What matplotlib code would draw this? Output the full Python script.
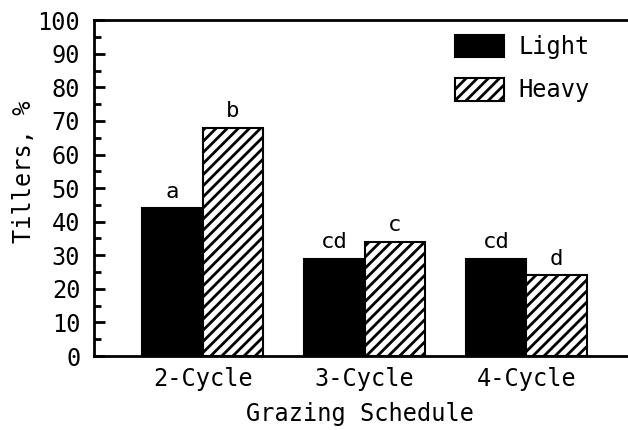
import matplotlib
matplotlib.use('Agg')
import matplotlib.pyplot as plt
import numpy as np

plt.rcParams['font.family'] = ['DejaVu Sans Mono']
plt.rcParams['hatch.linewidth'] = 2.0

# Data
schedules = ['2-Cycle', '3-Cycle', '4-Cycle']
light = [44, 29, 29]
heavy = [68, 34, 24]
light_letters = ['a', 'cd', 'cd']
heavy_letters = ['b', 'c', 'd']

fig = plt.figure(figsize=(6.28, 4.30), dpi=100)
ax = fig.add_axes([0.150, 0.172, 0.848, 0.781])

x = np.arange(len(schedules))
w = 0.375
b1 = ax.bar(x - w / 2, light, w, color='black', edgecolor='black', linewidth=1.5, label='Light')
b2 = ax.bar(x + w / 2, heavy, w, color='white', edgecolor='black', hatch='///', linewidth=1.5, label='Heavy')

for rect, t in zip(b1, light_letters):
    ax.text(rect.get_x() + rect.get_width() / 2, rect.get_height() + 2, t,
            ha='center', va='bottom', fontsize=16)
for rect, t in zip(b2, heavy_letters):
    ax.text(rect.get_x() + rect.get_width() / 2, rect.get_height() + 2, t,
            ha='center', va='bottom', fontsize=16)

ax.set_xlim(-0.67, 2.62)
ax.set_ylim(0, 100)
ax.set_yticks(np.arange(0, 101, 10))
ax.set_yticks(np.arange(0, 101, 5), minor=True)
ax.set_xticks(x)
ax.set_xticklabels(schedules)
ax.tick_params(axis='y', which='major', direction='in', length=8, width=2, labelsize=17, pad=10)
ax.tick_params(axis='y', which='minor', direction='in', length=5, width=2)
ax.tick_params(axis='x', length=0, labelsize=17, pad=8)

for s in ['left', 'top', 'bottom']:
    ax.spines[s].set_linewidth(2)
ax.spines['right'].set_visible(False)

ax.set_ylabel('Tillers, %', fontsize=17)
ax.yaxis.set_label_coords(-0.11, 0.55)
ax.set_xlabel('Grazing Schedule', fontsize=17, labelpad=8)

ax.legend(loc='upper right', bbox_to_anchor=(0.97, 1.02), frameon=False, fontsize=17,
          handlelength=2.1, handleheight=1.1, handletextpad=0.6, labelspacing=0.8)

fig.savefig('out.png', dpi=100)
